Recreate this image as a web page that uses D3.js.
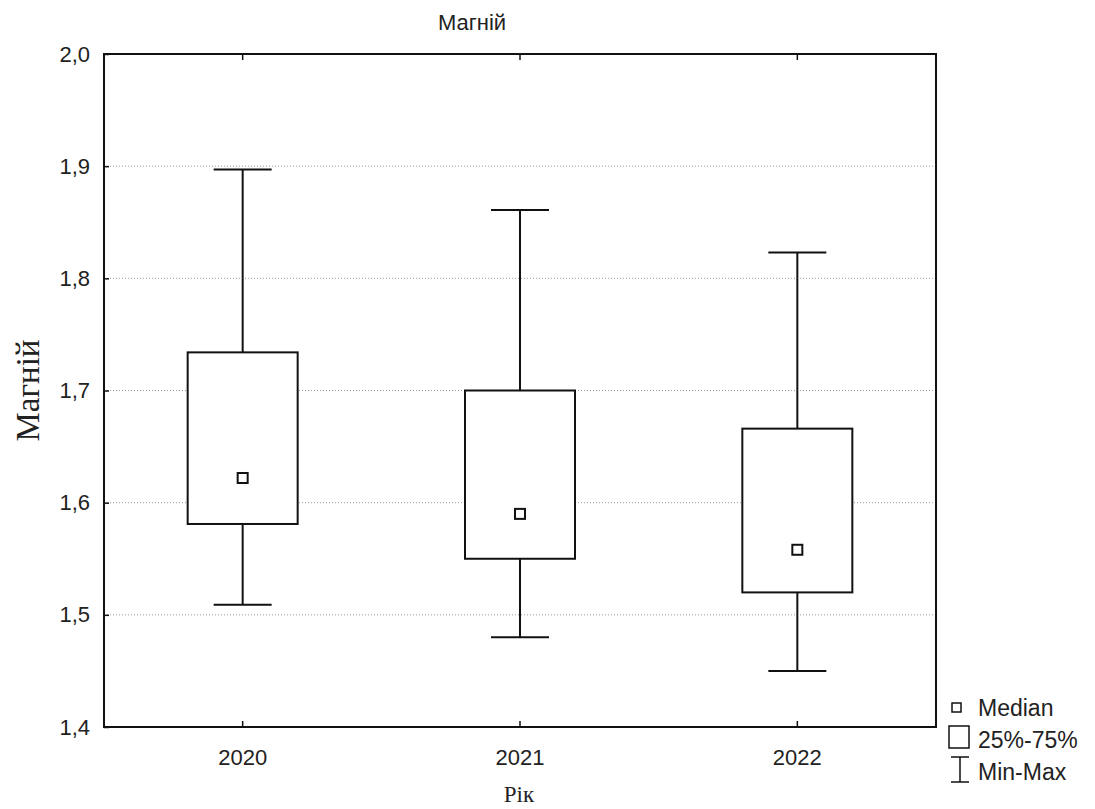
<!DOCTYPE html>
<html>
<head>
<meta charset="utf-8">
<script src="https://cdn.jsdelivr.net/npm/d3@7"></script>
<style>
  body { margin: 0; background: #fff; }
  svg { display: block; }
</style>
</head>
<body>
<svg id="chart" width="1095" height="809"></svg>
<script>
const categories = ["2020", "2021", "2022"];
const minVals    = [1.509, 1.480, 1.450];
const q1Vals     = [1.581, 1.550, 1.520];
const medianVals = [1.622, 1.590, 1.558];
const q3Vals     = [1.734, 1.700, 1.666];
const maxVals    = [1.897, 1.861, 1.823];
const yTicks     = [1.4, 1.5, 1.6, 1.7, 1.8, 1.9, 2.0];
const legendLabels = ["Median", "25%-75%", "Min-Max"];

const svg = d3.select("#chart");
const W = 1095, H = 809;
const m = { left: 104, top: 54, right: 159, bottom: 82 };
const x0 = m.left, x1 = W - m.right, y0 = H - m.bottom, y1 = m.top;

const x = d3.scaleBand().domain(categories).range([x0, x1]).padding(0);
const y = d3.scaleLinear().domain([1.4, 2.0]).range([y0, y1]);
const fmt = d => d3.format(".1f")(d).replace(".", ",");
const sansFont = "'Liberation Sans', Arial, sans-serif";
const serifFont = "'Liberation Serif', 'Times New Roman', serif";
const textColor = "#222";
const lineColor = "#111";

// gridlines
svg.append("g").selectAll("line")
  .data(yTicks.filter(t => t > 1.4 && t < 2.0))
  .join("line")
  .attr("x1", x0).attr("x2", x1)
  .attr("y1", d => y(d)).attr("y2", d => y(d))
  .attr("stroke", "#999").attr("stroke-width", 1)
  .attr("stroke-dasharray", "1,2");

// left axis
const yAxis = d3.axisLeft(y).tickValues(yTicks).tickFormat(fmt).tickSizeInner(-5).tickSizeOuter(0).tickPadding(14);
const gy = svg.append("g").attr("transform", `translate(${x0},0)`).call(yAxis);
gy.select(".domain").remove();
gy.selectAll("line").attr("stroke", lineColor).attr("stroke-width", 1.5);
gy.selectAll("text").attr("font-family", sansFont).attr("font-size", 22).attr("fill", textColor);

// bottom axis
const xAxis = d3.axisBottom(x).tickSizeInner(-6).tickSizeOuter(0).tickPadding(22);
const gx = svg.append("g").attr("transform", `translate(0,${y0})`).call(xAxis);
gx.select(".domain").remove();
gx.selectAll("line").attr("stroke", lineColor).attr("stroke-width", 1.5);
gx.selectAll("text").attr("font-family", sansFont).attr("font-size", 22).attr("fill", textColor);

// top axis ticks
const xTop = d3.axisTop(x).tickSizeInner(-6).tickSizeOuter(0).tickFormat("");
const gt = svg.append("g").attr("transform", `translate(0,${y1})`).call(xTop);
gt.select(".domain").remove();
gt.selectAll("line").attr("stroke", lineColor).attr("stroke-width", 1.5);

// frame
svg.append("rect").attr("x", x0).attr("y", y1).attr("width", x1 - x0).attr("height", y0 - y1)
  .attr("fill", "none").attr("stroke", lineColor).attr("stroke-width", 2);

// boxes
const data = categories.map((c, i) => ({ c, min: minVals[i], q1: q1Vals[i], med: medianVals[i], q3: q3Vals[i], max: maxVals[i] }));
const boxW = 110, capW = 58, medS = 10;
const g = svg.append("g").attr("stroke", lineColor).attr("stroke-width", 2).attr("fill", "none");
const cx = d => x(d.c) + x.bandwidth() / 2;

g.selectAll(".whU").data(data).join("line")
  .attr("x1", cx).attr("x2", cx).attr("y1", d => y(d.q3)).attr("y2", d => y(d.max));
g.selectAll(".whL").data(data).join("line")
  .attr("x1", cx).attr("x2", cx).attr("y1", d => y(d.q1)).attr("y2", d => y(d.min));
g.selectAll(".capU").data(data).join("line")
  .attr("x1", d => cx(d) - capW / 2).attr("x2", d => cx(d) + capW / 2)
  .attr("y1", d => y(d.max)).attr("y2", d => y(d.max));
g.selectAll(".capL").data(data).join("line")
  .attr("x1", d => cx(d) - capW / 2).attr("x2", d => cx(d) + capW / 2)
  .attr("y1", d => y(d.min)).attr("y2", d => y(d.min));
g.selectAll(".box").data(data).join("rect")
  .attr("x", d => cx(d) - boxW / 2).attr("width", boxW)
  .attr("y", d => y(d.q3)).attr("height", d => y(d.q1) - y(d.q3))
  .attr("fill", "#fff");
g.selectAll(".med").data(data).join("rect")
  .attr("x", d => cx(d) - medS / 2).attr("width", medS)
  .attr("y", d => y(d.med) - medS / 2).attr("height", medS)
  .attr("fill", "#fff").attr("stroke-width", 2);

// title
svg.append("text").attr("x", 472).attr("y", 30).attr("text-anchor", "middle")
  .attr("font-family", sansFont).attr("font-size", 22).attr("fill", textColor).text("Магній");

// axis titles
svg.append("text").attr("transform", `translate(39,${(y0 + y1) / 2}) rotate(-90)`).attr("text-anchor", "middle")
  .attr("font-family", serifFont).attr("font-size", 33).attr("fill", textColor).text("Магній");
svg.append("text").attr("x", 519).attr("y", 802).attr("text-anchor", "middle")
  .attr("font-family", serifFont).attr("font-size", 23).attr("fill", textColor).text("Рік");

// legend
const lg = svg.append("g");
lg.append("rect").attr("x", 952).attr("y", 703).attr("width", 9).attr("height", 9)
  .attr("fill", "none").attr("stroke", lineColor).attr("stroke-width", 1.5);
lg.append("rect").attr("x", 949).attr("y", 726).attr("width", 20).attr("height", 22)
  .attr("fill", "none").attr("stroke", lineColor).attr("stroke-width", 1.5);
lg.append("path").attr("d", "M951,757H969M960,757V782M951,782H969")
  .attr("fill", "none").attr("stroke", lineColor).attr("stroke-width", 1.5);
lg.selectAll("text").data(legendLabels).join("text")
  .attr("x", 978).attr("y", (d, i) => 716 + i * 32)
  .attr("font-family", sansFont).attr("font-size", 23).attr("fill", textColor).text(d => d);
</script>
</body>
</html>
